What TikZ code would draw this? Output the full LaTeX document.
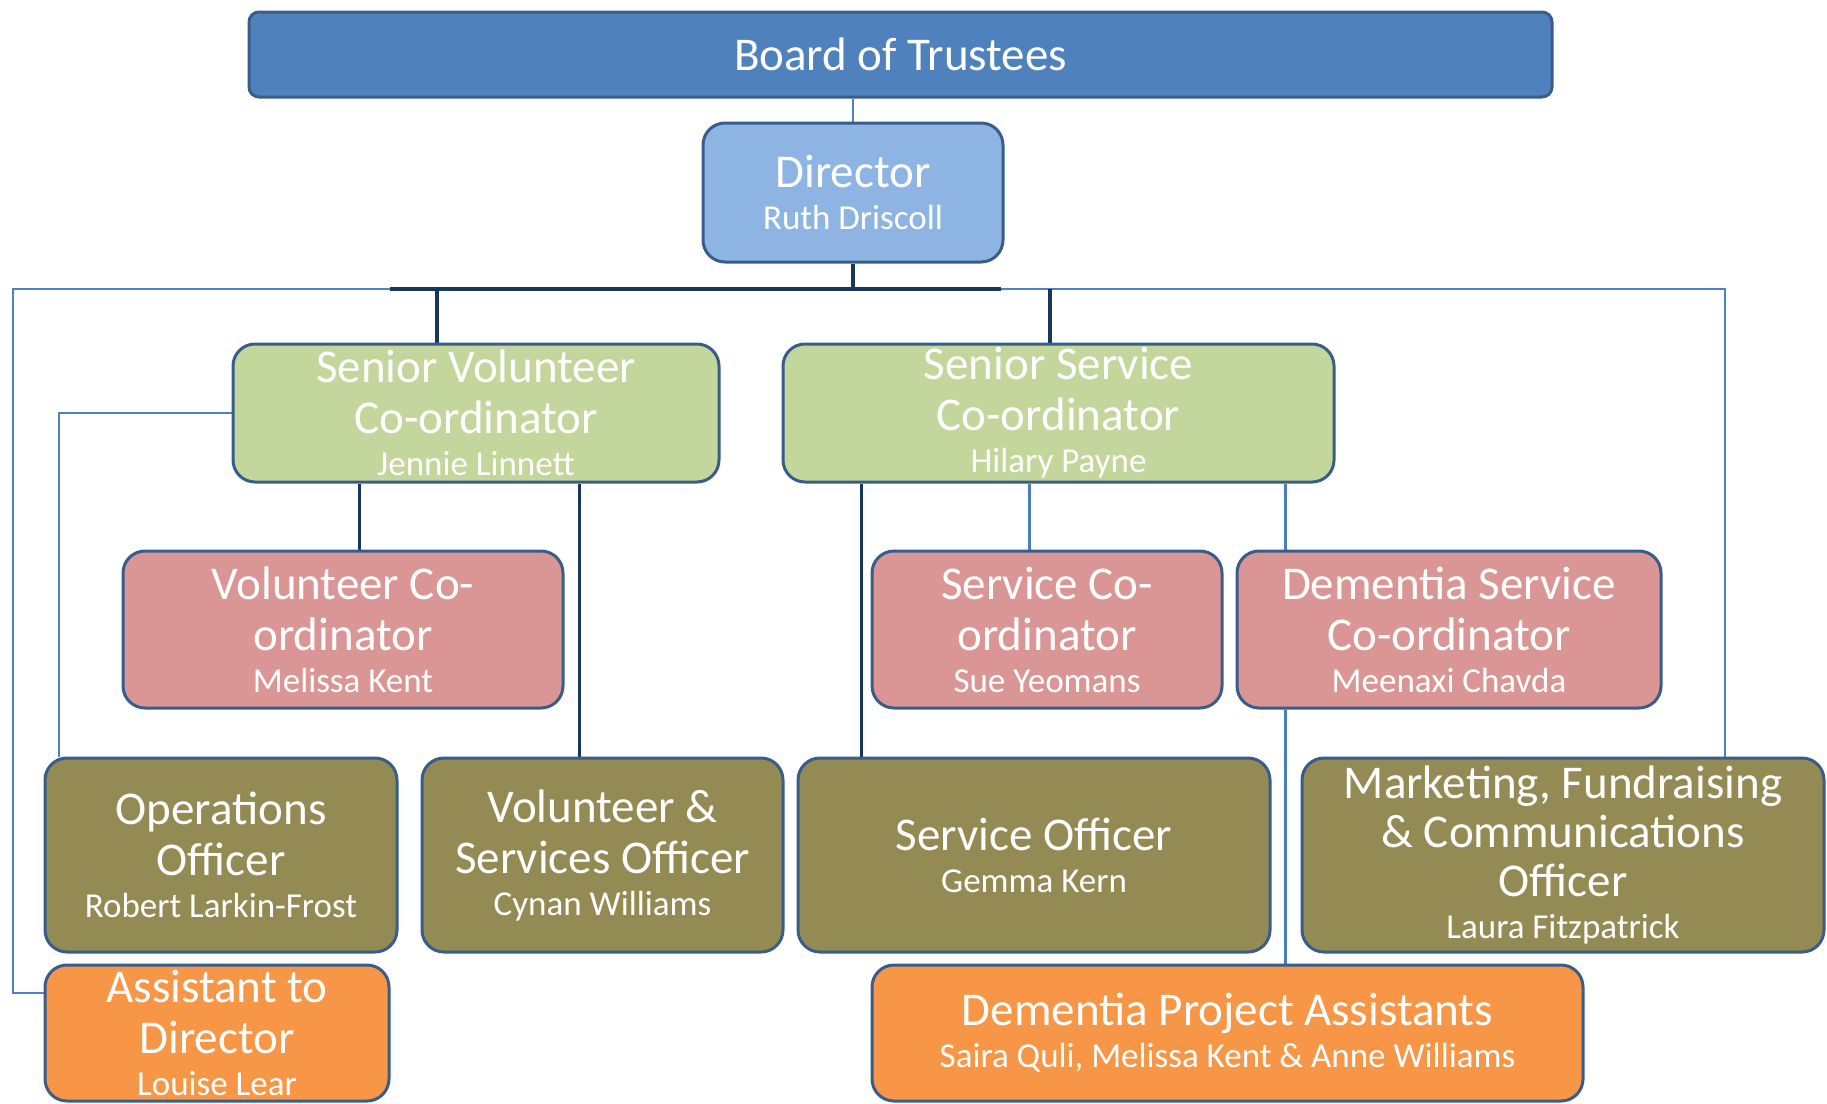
\documentclass[tikz,border=0pt]{standalone}
\usepackage{fontspec}
\setmainfont{Carlito}
\usetikzlibrary{backgrounds}
\definecolor{boardfill}{HTML}{4F81BD}
\definecolor{dirfill}{HTML}{8EB4E3}
\definecolor{greenfill}{HTML}{C3D69B}
\definecolor{pinkfill}{HTML}{D99694}
\definecolor{olivefill}{HTML}{948A54}
\definecolor{orangefill}{HTML}{F79646}
\definecolor{bordc}{HTML}{385D8A}
\definecolor{darkc}{HTML}{17375E}
\definecolor{lightc}{HTML}{4F81BD}
\definecolor{medc}{HTML}{4A7EBB}
\newcommand\titlefont{\fontsize{47}{51}\selectfont}
\newcommand\namefont{\fontsize{35}{40}\selectfont}
\newcommand\nm[1]{\\[-9pt]{\namefont #1}}
\begin{document}
\begin{tikzpicture}[x=1pt,y=-1pt,
  box/.style={draw=bordc, line width=3pt, rounded corners=22pt, text=white,
    align=center, font=\titlefont, inner sep=0pt},
  busline/.style={draw=darkc, line width=4pt},
  darkline/.style={draw=darkc, line width=3.5pt},
  subdark/.style={draw=darkc, line width=3pt},
  lightline/.style={draw=lightc, line width=2.5pt},
  medline/.style={draw=medc, line width=3pt}]
\useasboundingbox (0,0) rectangle (1827,1103);
% boxes
\node[box, fill=boardfill, rounded corners=10pt, minimum width=1303pt, minimum height=85pt]
  (board) at (900.5,54.5) {Board of Trustees};
\node[box, fill=dirfill, minimum width=300pt, minimum height=139pt]
  (director) at (853,192.5) {Director\nm{Ruth Driscoll}};
\node[box, fill=greenfill, minimum width=486pt, minimum height=138pt]
  (sv) at (476,413) {Senior Volunteer\\Co-ordinator\nm{Jennie Linnett}};
\node[box, fill=greenfill, minimum width=551pt, minimum height=138pt]
  (ss) at (1058.5,413) {Senior Service\\Co-ordinator\nm{Hilary Payne}};
\node[box, fill=pinkfill, minimum width=440pt, minimum height=157pt]
  (vc) at (343,629.5) {Volunteer Co-\\ordinator\nm{Melissa Kent}};
\node[box, fill=pinkfill, minimum width=350pt, minimum height=157pt]
  (sc) at (1047,629.5) {Service Co-\\ordinator\nm{Sue Yeomans}};
\node[box, fill=pinkfill, minimum width=424pt, minimum height=157pt]
  (dsc) at (1449,629.5) {Dementia Service\\Co-ordinator\nm{Meenaxi Chavda}};
\node[box, fill=olivefill, minimum width=352pt, minimum height=194pt]
  (ops) at (221,855) {Operations\\Officer\nm{Robert Larkin-Frost}};
\node[box, fill=olivefill, minimum width=361pt, minimum height=194pt]
  (vso) at (602.5,855) {Volunteer \&\\Services Officer\nm{Cynan Williams}};
\node[box, fill=olivefill, minimum width=472pt, minimum height=194pt]
  (so) at (1034,855) {Service Officer\nm{Gemma Kern}};
\node[box, fill=olivefill, minimum width=522pt, minimum height=194pt]
  (mkt) at (1563,855) {Marketing, Fundraising\\[-2pt]\& Communications\\[-2pt]Officer\nm{Laura Fitzpatrick}};
\node[box, fill=orangefill, minimum width=344pt, minimum height=136pt]
  (asst) at (217,1033) {Assistant to\\Director\nm{Louise Lear}};
\node[box, fill=orangefill, minimum width=711pt, minimum height=136pt]
  (dpa) at (1227.5,1033) {Dementia Project Assistants\nm{Saira Quli, Melissa Kent \& Anne Williams}};
% connectors
\begin{scope}[on background layer]
\coordinate (busL) at (13,289);
\coordinate (busD1) at (390,289);
\coordinate (busD2) at (1001,289);
\coordinate (busR) at (1725,289);
\coordinate (dropA) at (437,289);
\coordinate (dropB) at (1050,289);
\coordinate (colA) at (59,0);
\coordinate (c359) at (359,0);
\coordinate (c579) at (579,0);
\coordinate (c861) at (861,0);
\coordinate (c1029) at (1029,0);
\coordinate (c1285) at (1285,0);
\draw[lightline] (board.south -| director.north) -- (director.north);
\draw[darkline] (director.south) -- (director.south |- busL);
\draw[lightline] (busD1) -- (busL) |- ([yshift=40pt]asst.west);
\draw[busline] (busD1) -- (busD2);
\draw[lightline] (busD2) -- (busR) -- (busR |- mkt.north);
\draw[darkline] (dropA) -- (dropA |- sv.north);
\draw[darkline] (dropB) -- (dropB |- ss.north);
\draw[lightline] (sv.west) -| (colA |- ops.north);
\draw[subdark] (c359 |- sv.south) -- (c359 |- vc.north);
\draw[subdark] (c579 |- sv.south) -- (c579 |- vso.north);
\draw[subdark] (c861 |- ss.south) -- (c861 |- so.north);
\draw[medline] (c1029 |- ss.south) -- (c1029 |- sc.north);
\draw[medline] (c1285 |- ss.south) -- (c1285 |- dsc.north);
\draw[medline] (c1285 |- dsc.south) -- (c1285 |- dpa.north);
\end{scope}
\end{tikzpicture}
\end{document}
